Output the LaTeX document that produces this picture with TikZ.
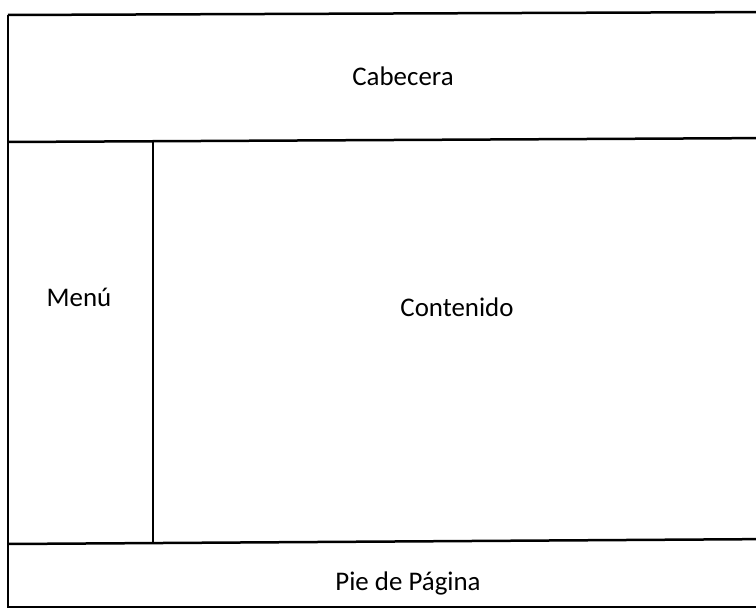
\documentclass[tikz,border=0pt]{standalone}
\usepackage{fontspec}
\setmainfont{Carlito}
\begin{document}
\begin{tikzpicture}[x=1bp, y=-1bp, line width=2.5bp]
    \useasboundingbox (0,0) rectangle (756,608);
    \clip (0,0) rectangle (756,608);
    \tikzset{etiqueta/.style={font=\fontsize{27}{32}\selectfont, inner sep=0pt}}

    % marco exterior y divisiones
    \draw (8,15) -- (780,12);
    \draw (8,15) -- (8,620);
    \draw (8,607.5) -- (780,607.5);
    \draw (8,142) -- (780,138);
    \draw (8,544) -- (780,539);
    \draw (153,142) -- (153,543);

    \node[etiqueta] (cabecera) at (403,76) {Cabecera};
    \node[etiqueta] (menu) at (79,297) {Menú};
    \node[etiqueta] (contenido) at (457,307) {Contenido};
    \node[etiqueta] (pie) at (408,583) {Pie de Página};

\end{tikzpicture}
\end{document}
